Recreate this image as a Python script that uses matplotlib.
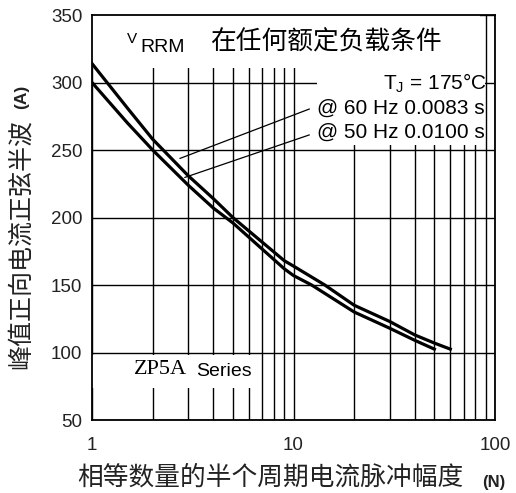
import matplotlib.pyplot as plt
from matplotlib.patches import Rectangle
from matplotlib.ticker import FixedLocator, NullFormatter

plt.rcParams['font.family'] = ['Liberation Sans', 'Noto Sans CJK SC', 'DejaVu Sans']

# surge curves (N cycles -> peak A)
n_60 = [1, 1.5, 2, 3, 4, 5, 9, 10, 14.3, 20, 30, 40, 50, 60]
i_60 = [314, 281, 258, 231, 214, 200, 168, 164, 150, 135, 123, 113, 107, 102.5]
n_50 = [1, 1.5, 2, 3, 4, 5, 9, 10, 12.3, 20, 30, 40, 50]
i_50 = [300, 270, 250, 224, 207, 196, 162, 157, 150, 130, 118, 109, 102.5]

x_ticks = [1, 10, 100]
x_minor = [2, 3, 4, 5, 6, 7, 8, 9, 20, 30, 40, 50, 60, 70, 80, 90]
y_ticks = [50, 100, 150, 200, 250, 300, 350]

W, H = 516, 493
fig = plt.figure(figsize=(W / 100, H / 100), dpi=100)
ax = fig.add_axes([92 / W, 1 - 420 / H, 403 / W, 405 / H])


def px(x, y):
    return x / W, 1 - y / H


ax.set_xscale('log')
ax.set_xlim(1, 100)
ax.set_ylim(50, 350)
ax.xaxis.set_major_locator(FixedLocator(x_ticks))
ax.xaxis.set_minor_locator(FixedLocator(x_minor))
ax.xaxis.set_minor_formatter(NullFormatter())
ax.set_xticklabels(['1', '10', '100'])
ax.set_yticks(y_ticks)
ax.tick_params(which='both', length=0, labelsize=13.5, colors='#222222')
ax.tick_params(axis='x', pad=12)
ax.tick_params(axis='y', pad=7)
ax.set_axisbelow(True)
ax.grid(True, which='both', color='black', lw=1.0)
for s in ax.spines.values():
    s.set_linewidth(1.3)

# white boxes behind the texts that cut the grid
for (x0, y0, w, h) in [(0, 0.869, 0.963, 0.131), (0.558, 0.679, 0.417, 0.19), (0, 0.079, 0.407, 0.081)]:
    ax.add_patch(Rectangle((x0, y0), w, h, transform=ax.transAxes,
                           facecolor='white', edgecolor='none', zorder=1))

ax.plot(n_60, i_60, color='black', lw=2.3, zorder=3)
ax.plot(n_50, i_50, color='black', lw=2.3, zorder=3)

# leaders to the curves
ax.annotate('', xy=(2.65, 243), xytext=(312, H - 108), textcoords='figure pixels',
            arrowprops=dict(arrowstyle='-', lw=0.9, color='black'), zorder=4)
ax.annotate('', xy=(2.8, 229), xytext=(312, H - 134), textcoords='figure pixels',
            arrowprops=dict(arrowstyle='-', lw=0.9, color='black'), zorder=4)

fig.text(*px(487, 83), r'T$_\mathregular{J}$ = 175°C', fontsize=15, ha='right', va='center')
fig.text(*px(317, 108), '@ 60 Hz 0.0083 s', fontsize=15, ha='left', va='center')
fig.text(*px(317, 132), '@ 50 Hz 0.0100 s', fontsize=15, ha='left', va='center')

# title line
fig.text(*px(127, 39), 'V', fontsize=11, ha='left', va='center')
fig.text(*px(140, 47), 'RRM', fontsize=14, ha='left', va='center')
fig.text(*px(210, 43), '在任何额定负载条件', fontsize=18.5, ha='left', va='center',
         family=['Noto Sans CJK SC'])

fig.text(*px(134, 369), 'ZP5A', fontsize=16, ha='left', va='center', family=['Liberation Serif'])
fig.text(*px(196, 371), 'Series', fontsize=14, ha='left', va='center')

# axis labels
fig.text(*px(21, 244), '峰值正向电流正弦半波', fontsize=18, rotation=90, ha='center', va='center',
         family=['Noto Sans CJK SC'], color='#222222')
fig.text(*px(22, 97), '(A)', fontsize=12.5, rotation=90, ha='center', va='center',
         weight='bold', color='#222222')
fig.text(*px(270, 478), '相等数量的半个周期电流脉冲幅度', fontsize=18.5, ha='center', va='center',
         family=['Noto Sans CJK SC'], color='#222222')
fig.text(*px(494, 482), '(N)', fontsize=12, ha='center', va='center',
         weight='bold', color='#222222')

fig.savefig('out.png', dpi=100)
